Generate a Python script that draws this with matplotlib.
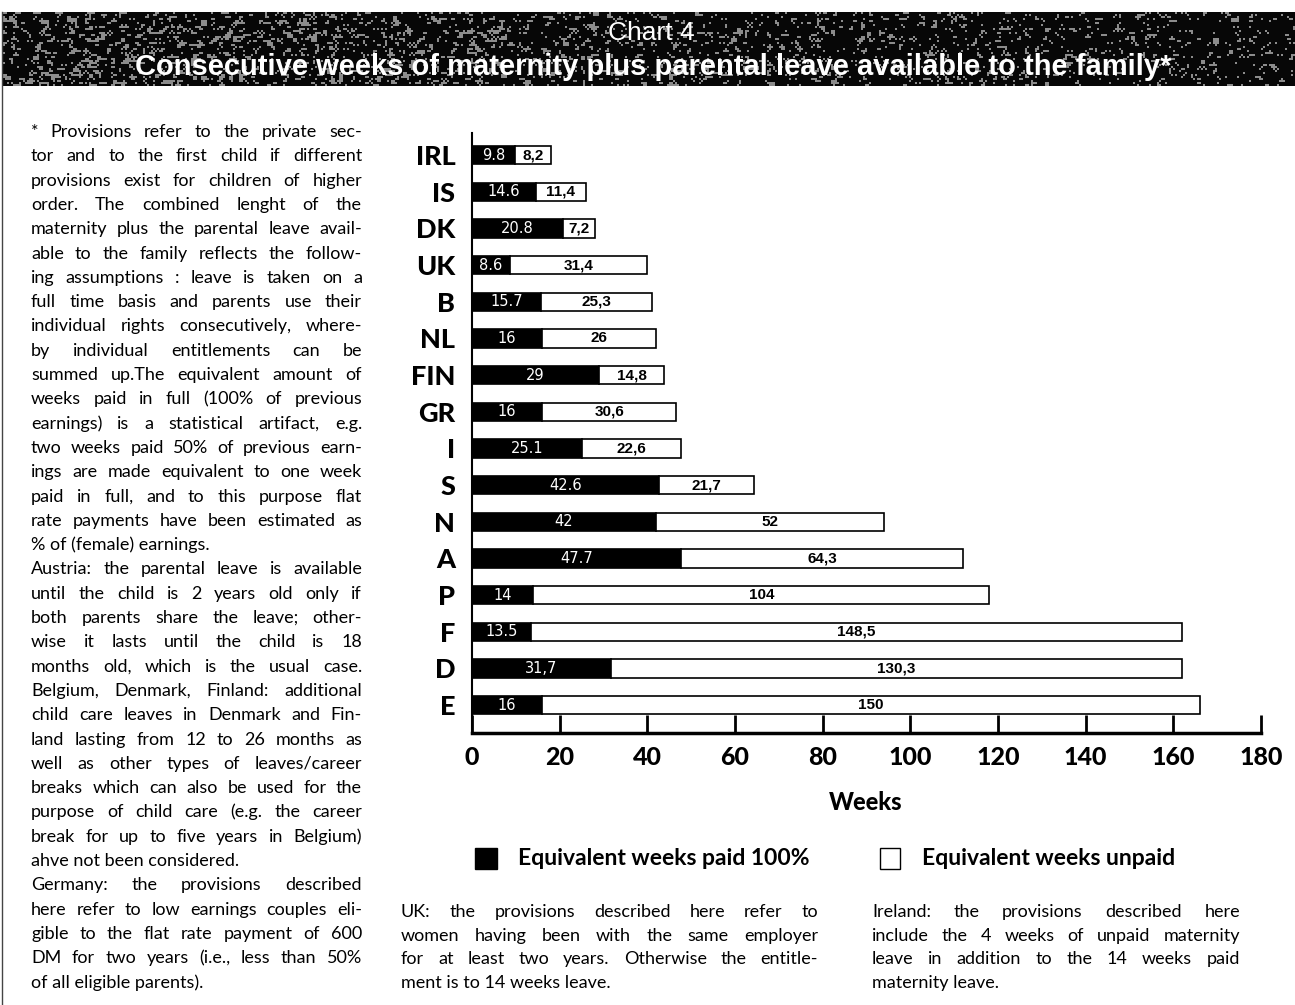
import matplotlib
matplotlib.use("Agg")
import matplotlib.pyplot as plt
import matplotlib.transforms as mtransforms
from matplotlib.patches import Rectangle
from matplotlib.lines import Line2D
import numpy as np

W, H = 1295, 1005

countries = ["IRL", "IS", "DK", "UK", "B", "NL", "FIN", "GR", "I", "S",
             "N", "A", "P", "F", "D", "E"]
paid = [9.8, 14.6, 20.8, 8.6, 15.7, 16, 29, 16, 25.1, 42.6,
        42, 47.7, 14, 13.5, 31.7, 16]
unpaid = [8.2, 11.4, 7.2, 31.4, 25.3, 26, 14.8, 30.6, 22.6, 21.7,
          52, 64.3, 104, 148.5, 130.3, 150]
comma_paid = {"D"}  # paid value printed with a decimal comma
week_ticks = [0, 20, 40, 60, 80, 100, 120, 140, 160, 180]

notes_main = [
    "* Provisions refer to the private sec-",
    "tor and to the first child if different",
    "provisions exist for children of higher",
    "order. The combined lenght of the",
    "maternity plus the parental leave avail-",
    "able to the family reflects the follow-",
    "ing assumptions : leave is taken on a",
    "full time basis and parents use their",
    "individual rights consecutively, where-",
    "by individual entitlements can be",
    "summed up.The equivalent amount of",
    "weeks paid in full (100% of previous",
    "earnings) is a statistical artifact, e.g.",
    "two weeks paid 50% of previous earn-",
    "ings are made equivalent to one week",
    "paid in full, and to this purpose flat",
    "rate payments have been estimated as",
    "% of (female) earnings.",
    "Austria: the parental leave is available",
    "until the child is 2 years old only if",
    "both parents share the leave; other-",
    "wise it lasts until the child is 18",
    "months old, which is the usual case.",
    "Belgium, Denmark, Finland: additional",
    "child care leaves in Denmark and Fin-",
    "land lasting from 12 to 26 months as",
    "well as other types of leaves/career",
    "breaks which can also be used for the",
    "purpose of child care (e.g. the career",
    "break for up to five years in Belgium)",
    "ahve not been considered.",
    "Germany: the provisions described",
    "here refer to low earnings couples eli-",
    "gible to the flat rate payment of 600",
    "DM for two years (i.e., less than 50%",
    "of all eligible parents).",
]
main_last = {17, 30, 35}

notes_uk = [
    "UK: the provisions described here refer to",
    "women having been with the same employer",
    "for at least two years. Otherwise the entitle-",
    "ment is to 14 weeks leave.",
]
notes_irl = [
    "Ireland: the provisions described here",
    "include the 4 weeks of unpaid maternity",
    "leave in addition to the 14 weeks paid",
    "maternity leave.",
]

BODY = "Lato"

fig = plt.figure(figsize=(W / 100, H / 100), dpi=100)
fig.patch.set_facecolor("white")
pix = mtransforms.IdentityTransform()


def fx(x):
    return x / W


def fy(y):
    return 1 - y / H


# speckled title band
band = fig.add_axes([fx(3), fy(86), 1 - fx(3), 74 / H])
rng = np.random.default_rng(7)
noise = rng.random((37, 646))
smooth = (noise + np.roll(noise, 1, 0) + np.roll(noise, 1, 1)
          + np.roll(noise, -1, 1)) / 4
thresh = np.linspace(0.60, 0.70, noise.shape[1])
band.imshow(np.where(smooth > thresh, 0.55, 0.03), cmap="gray", vmin=0,
            vmax=1, aspect="auto", interpolation="nearest")
band.set_axis_off()

fig.text(fx(651), fy(33), "Chart 4", color="white", fontsize=19,
         family="Liberation Sans", ha="center", va="center")
fig.text(fx(653), fy(67), "Consecutive weeks of maternity plus parental "
         "leave available to the family*", color="white", fontsize=21,
         family="Liberation Sans", weight="bold", ha="center", va="center")

# left frame line
fig.add_artist(Line2D([fx(2), fx(2)], [0, fy(12)], color="#444444", lw=1))

# chart
ax = fig.add_axes([fx(472), fy(733), 789 / W, 600 / H])
ypos = np.arange(len(countries))[::-1]
left = np.array(paid)
ax.barh(ypos, paid, height=0.5, color="black", edgecolor="black", lw=1.2)
ax.barh(ypos, unpaid, left=left, height=0.5, color="white",
        edgecolor="black", lw=1.2)

for c, y, p, u in zip(countries, ypos, paid, unpaid):
    ptxt = f"{p:g}"
    if c in comma_paid:
        ptxt = ptxt.replace(".", ",")
    ax.text(p / 2, y, ptxt, color="white", ha="center", va="center",
            fontsize=10.5, family="Liberation Sans Narrow")
    ax.text(p + u / 2, y, f"{u:g}".replace(".", ","), color="black",
            ha="center", va="center", fontsize=11, weight="bold",
            family="Liberation Sans")

ax.set_xlim(0, 180)
ax.set_ylim(-0.76, 15.6)
ax.set_xticks(week_ticks)
ax.set_xticklabels([str(t) for t in week_ticks], fontsize=18,
                   weight=900, family=BODY)
ax.set_yticks(ypos)
ax.set_yticklabels(countries, fontsize=19.5, weight=900, family=BODY)
ax.tick_params(axis="x", direction="in", length=13, width=2, pad=9)
ax.tick_params(axis="y", length=0, pad=12)
for s in ("top", "right"):
    ax.spines[s].set_visible(False)
ax.spines["left"].set_linewidth(1.5)
ax.spines["bottom"].set_linewidth(2.5)
ax.set_facecolor("none")

fig.text(fx(866), fy(803), "Weeks", fontsize=17, weight=900,
         family=BODY, ha="center", va="center")

# legend
fig.add_artist(Rectangle((fx(475), fy(869)), 22 / W, 21 / H,
                         transform=fig.transFigure, color="black"))
fig.add_artist(Rectangle((fx(880), fy(869)), 20 / W, 21 / H,
                         transform=fig.transFigure, facecolor="white",
                         edgecolor="black", lw=1))
fig.text(fx(518), fy(858), "Equivalent weeks paid 100%", fontsize=16.5,
         weight="bold", family=BODY, ha="left", va="center")
fig.text(fx(922), fy(858), "Equivalent weeks unpaid", fontsize=16.5,
         weight="bold", family=BODY, ha="left", va="center")


def justified(lines, x0, x1, y_first, step, last_lines, size=13):
    renderer = fig.canvas.get_renderer()
    for i, line in enumerate(lines):
        base = H - (y_first + i * step + 5)
        if i in last_lines:
            fig.text(x0, base, line, transform=pix, fontsize=size,
                     family=BODY, va="baseline")
            continue
        words = line.split(" ")
        texts = [fig.text(0, base, w, transform=pix, fontsize=size,
                          family=BODY, va="baseline") for w in words]
        widths = [t.get_window_extent(renderer).width for t in texts]
        gap = (x1 - x0 - sum(widths)) / max(len(words) - 1, 1)
        gap = max(gap, 3)
        x = x0
        for t, w in zip(texts, widths):
            t.set_x(x)
            x += w + gap


justified(notes_main, 31, 362, 132, 24.3, main_last)
justified(notes_uk, 401, 818, 912, 23.7, {3})
justified(notes_irl, 872, 1240, 912, 23.7, {3})

fig.savefig("out.png", dpi=100)
